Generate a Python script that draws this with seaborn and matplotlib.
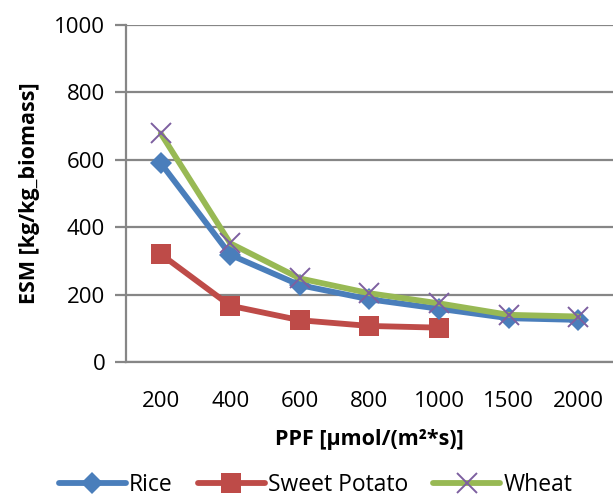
import numpy as np
import pandas as pd
import matplotlib
matplotlib.use("Agg")
import matplotlib.pyplot as plt
import seaborn as sns
from matplotlib.lines import Line2D

# --- DATA ---
ppf_labels = ['200', '400', '600', '800', '1000', '1500', '2000']
rice = [590, 318, 228, 186, 158, 130, 125]
sweet_potato = [320, 167, 124, 107, 102, np.nan, np.nan]
wheat = [678, 352, 248, 204, 174, 140, 135]
y_ticks = [0, 200, 400, 600, 800, 1000]

df = pd.DataFrame({'pos': range(len(ppf_labels)), 'PPF': ppf_labels,
                   'Rice': rice, 'Sweet Potato': sweet_potato, 'Wheat': wheat})

# --- STYLE ---
sns.set_theme(style="white")
plt.rcParams['font.family'] = ['Open Sans', 'DejaVu Sans']
plt.rcParams['text.color'] = 'black'
plt.rcParams['xtick.labelcolor'] = 'black'
plt.rcParams['ytick.labelcolor'] = 'black'
plt.rcParams['axes.labelcolor'] = 'black'
grey = '#868686'
c_rice, c_sp, c_wheat, c_x = '#4A7EBB', '#BE4B48', '#98B954', '#7D5FA0'

fig = plt.figure(figsize=(6.13, 4.99), dpi=100)
ax = fig.add_axes([0.2055, 0.2745, 0.7945, 0.6755])

sns.lineplot(data=df, x='pos', y='Rice', ax=ax, color=c_rice, lw=4.2,
             marker='D', markersize=11, markeredgewidth=0, zorder=3)
sns.lineplot(data=df.dropna(), x='pos', y='Sweet Potato', ax=ax, color=c_sp, lw=4.2,
             marker='s', markersize=15, markeredgewidth=0, zorder=2)
sns.lineplot(data=df, x='pos', y='Wheat', ax=ax, color=c_wheat, lw=4.2,
             marker='x', markersize=14, markeredgewidth=1.4,
             markeredgecolor=c_x, zorder=4)

# axes
ax.set_xlim(-0.5, len(ppf_labels) - 0.5)
ax.set_ylim(0, 1000)
ax.set_yticks(y_ticks)
ax.set_xticks(range(len(ppf_labels)))
ax.set_xticklabels(ppf_labels)
ax.set_xticks(np.arange(-0.5, len(ppf_labels)), minor=True)
ax.tick_params(axis='x', which='major', length=0, pad=21, labelsize=16, labelcolor='black')
ax.tick_params(axis='x', which='minor', length=8, width=1.6, color=grey, direction='out')
ax.tick_params(axis='y', length=8, width=1.6, color=grey, labelsize=16, pad=7,
               left=True, labelcolor='black')
ax.grid(axis='y', color=grey, lw=1.6)
ax.grid(axis='x', visible=False)
for s in ['top', 'right']:
    ax.spines[s].set_visible(False)
for s in ['left', 'bottom']:
    ax.spines[s].set_color(grey)
    ax.spines[s].set_linewidth(1.6)

ax.set_xlabel('PPF [µmol/(m²*s)]', fontsize=15.5, fontweight='bold', labelpad=12, color='black')
ax.set_ylabel('ESM [kg/kg_biomass]', fontsize=15.5, fontweight='bold', labelpad=10, color='black')

handles = [
    Line2D([], [], color=c_rice, lw=4.2, marker='D', markersize=11, markeredgewidth=0),
    Line2D([], [], color=c_sp, lw=4.2, marker='s', markersize=15, markeredgewidth=0),
    Line2D([], [], color=c_wheat, lw=4.2, marker='x', markersize=14,
           markeredgewidth=1.4, markeredgecolor=c_x),
]
leg = fig.legend(handles, ['Rice', 'Sweet Potato', 'Wheat'], loc='center',
                 bbox_to_anchor=(0.515, 0.028), ncol=3, frameon=False, fontsize=16.5,
                 handlelength=2.9, handletextpad=0.15, columnspacing=1.1)
for t in leg.get_texts():
    t.set_color('black')

fig.savefig('out.png', dpi=100)
